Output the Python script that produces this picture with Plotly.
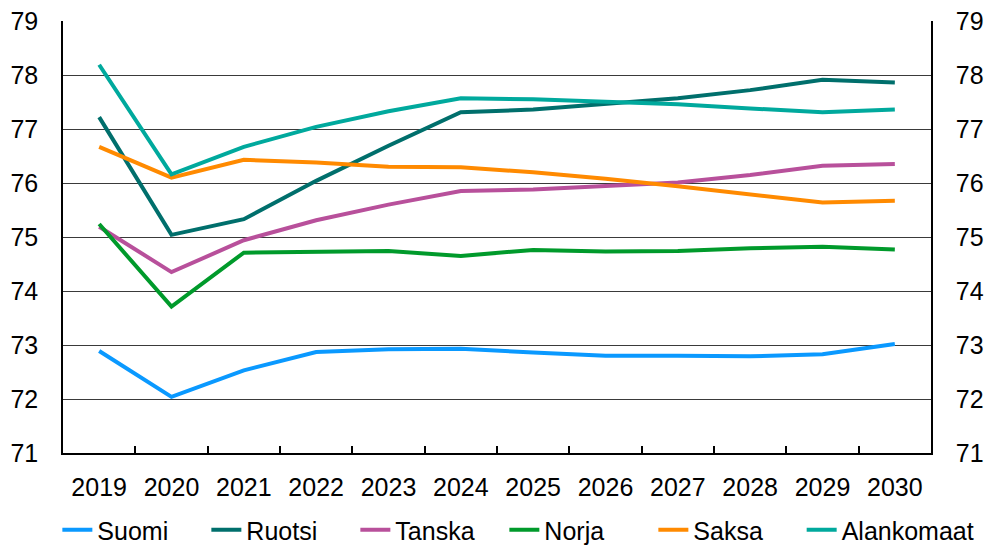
import plotly.graph_objects as go

# Vuodet ja sarjat (luettu kuvasta)
years = ["2019", "2020", "2021", "2022", "2023", "2024",
         "2025", "2026", "2027", "2028", "2029", "2030"]

suomi = [72.89, 72.04, 72.53, 72.87, 72.92, 72.93, 72.86, 72.80, 72.80, 72.79, 72.83, 73.02]
ruotsi = [77.22, 75.04, 75.33, 76.04, 76.69, 77.31, 77.36, 77.46, 77.57, 77.72, 77.91, 77.86]
tanska = [75.19, 74.35, 74.94, 75.31, 75.60, 75.85, 75.88, 75.94, 76.01, 76.15, 76.32, 76.35]
norja = [75.24, 73.71, 74.71, 74.73, 74.74, 74.65, 74.76, 74.73, 74.74, 74.79, 74.82, 74.77]
saksa = [76.67, 76.10, 76.43, 76.38, 76.30, 76.29, 76.20, 76.08, 75.94, 75.79, 75.64, 75.67]
alankomaat = [78.19, 76.16, 76.67, 77.04, 77.33, 77.57, 77.55, 77.50, 77.46, 77.38, 77.31, 77.36]

series = [
    ("Suomi", suomi, "#0a99ff", "legend"),
    ("Ruotsi", ruotsi, "#006f6c", "legend"),
    ("Tanska", tanska, "#b8509b", "legend"),
    ("Norja", norja, "#009a2b", "legend"),
    ("Saksa", saksa, "#ff8a00", "legend"),
    ("Alankomaat", alankomaat, "#00a99d", "legend2"),
]

font = "Liberation Sans, Arial, sans-serif"

fig = go.Figure()
for name, vals, col, leg in series:
    fig.add_trace(go.Scatter(x=years, y=vals, name=name, mode="lines",
                             line=dict(color=col, width=4), legend=leg))

# näkymätön sarja oikeaa akselia varten
fig.add_trace(go.Scatter(x=years, y=suomi, yaxis="y2", mode="lines",
                         line=dict(color="rgba(0,0,0,0)"), showlegend=False,
                         hoverinfo="skip"))

leg_common = dict(orientation="h", xanchor="left", y=-0.125, yanchor="top",
                  font=dict(size=25), itemwidth=30, traceorder="normal")

fig.update_layout(
    width=987,
    height=549,
    margin=dict(l=63, r=56, t=21, b=96, autoexpand=False),
    paper_bgcolor="white",
    plot_bgcolor="white",
    font=dict(family=font, size=25, color="black"),
    showlegend=True,
    legend=dict(x=-0.0065, entrywidth=104, entrywidthmode="pixels", **leg_common),
    legend2=dict(x=0.851, **leg_common),
    xaxis=dict(type="category", range=[-0.5, 11.5], automargin=False,
               showline=True, linecolor="black", linewidth=1.5,
               ticks="inside", tickson="boundaries", ticklen=7, tickcolor="black",
               tickwidth=1.5, showgrid=False, ticklabelstandoff=11),
    yaxis=dict(range=[71, 79], dtick=1, automargin=False, showline=True,
               linecolor="black", linewidth=1.5,
               showgrid=True, gridcolor="#3a3a3a", gridwidth=1, zeroline=False,
               ticks="", ticklabelstandoff=18),
    yaxis2=dict(range=[71, 79], dtick=1, automargin=False, overlaying="y", side="right",
                showline=True, linecolor="black", linewidth=1.5, showgrid=False,
                zeroline=False, ticks="", ticklabelstandoff=18),
)

# sivun oletusmarginaali pois, jotta kuva alkaa vasemmasta yläkulmasta
fig.write_html("out.html", config={"displayModeBar": False},
               post_script="document.body.style.margin='0';")
